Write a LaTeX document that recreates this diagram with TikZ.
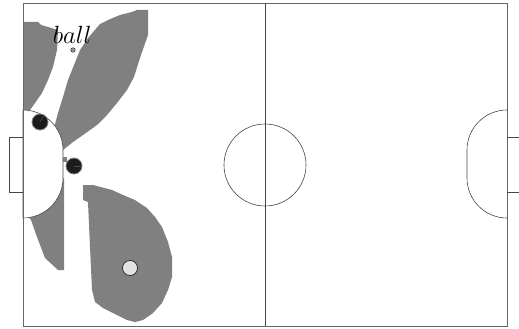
\documentclass[tikz,border=0pt]{standalone}
\usepackage{tikz}
\usetikzlibrary{calc}
\definecolor{zonegrey}{RGB}{128, 128, 128}
\definecolor{robotdark}{RGB}{28, 28, 28}
\definecolor{robotlight}{RGB}{226, 226, 226}
\definecolor{linegrey}{RGB}{70, 70, 70}

\begin{document}
\begin{tikzpicture}[x=1pt, y=-1pt, line width=0.6pt,
  zone/.style={fill=zonegrey},
  fieldline/.style={draw=linegrey, line width=0.6pt},
  robot/.style={circle, minimum size=16pt, inner sep=0pt, fill=robotdark, draw=black!50, line width=0.8pt},
  oppbot/.style={circle, minimum size=15pt, inner sep=0pt, fill=robotlight, draw=black!85, line width=0.7pt}]
\useasboundingbox (0,0) rectangle (519,329);

% reachable regions
\fill[zone] (23,22) -- (38,22) -- (41,25) -- (48,27) -- (58,30) -- (57,50) -- (53,67) -- (48,80) -- (42,93) -- (35,103) -- (30,110) -- (23,112) -- cycle;
\fill[zone] (100,24) -- (108,20) -- (120,15) -- (132,12) -- (137,10) -- (148,10) -- (148,35) -- (140,58) -- (134,77) -- (127,90) -- (117,103) -- (107,115) -- (97,125) -- (83,135) -- (73,142) -- (63,150) -- (54,140) -- (54,128) -- (58,113) -- (63,97) -- (68,80) -- (74,65) -- (80,50) -- (88,38) -- cycle;
\fill[zone] (63,157) rectangle (67,162);
\fill[zone] (26,214) -- (64,178) -- (64,270) -- (58,270) -- (45,258) -- (37,237) -- (31,220) -- cycle;
\fill[zone] (83,185) -- (93,185) -- (112,190) -- (123,195) -- (135,200) -- (147,208) -- (155,217) -- (162,227) -- (168,242) -- (172,257) -- (172,277) -- (168,290) -- (162,303) -- (153,313) -- (143,320) -- (135,322) -- (127,320) -- (113,313) -- (103,308) -- (95,302) -- (92,290) -- (90,247) -- (88,202) -- (83,200) -- cycle;

% pitch
\filldraw[fieldline, fill=white] (23,110) arc[start angle=90, end angle=0, radius=40pt] -- (63,178) arc[start angle=0, end angle=-90, radius=40pt] -- cycle;
\draw[fieldline] (507,110) arc[start angle=90, end angle=180, radius=40pt] -- (467,178) arc[start angle=180, end angle=270, radius=40pt];
\draw[draw=black!60, line width=0.9pt] (23,3) rectangle (507,326);
\draw[fieldline] (265,3) -- (265,326);
\draw[fieldline] (265,165) circle[radius=41pt];
\draw[fieldline] (23,137) -- (9,137) -- (9,192) -- (23,192);
\draw[fieldline] (507,137) -- (519,137);
\draw[fieldline] (507,192) -- (519,192);

% robots and ball
\node[robot] (keeper) at (40,122) {};
\node[robot] (defender) at (74,166) {};
\node[oppbot] (opponent) at (130,268) {};
\draw[black!70] (keeper.center) -- (keeper.60);
\draw[black!70] (defender.center) -- (defender.east);
\node[circle, minimum size=4.5pt, inner sep=0pt, fill=black!40, draw=black!80, line width=0.5pt] (ball) at (73,50) {};
\node[anchor=base west, inner sep=0pt, font=\fontsize{26}{28}\selectfont] (balltext) at (52.5,43.5) {$ball$};
\end{tikzpicture}
\end{document}
